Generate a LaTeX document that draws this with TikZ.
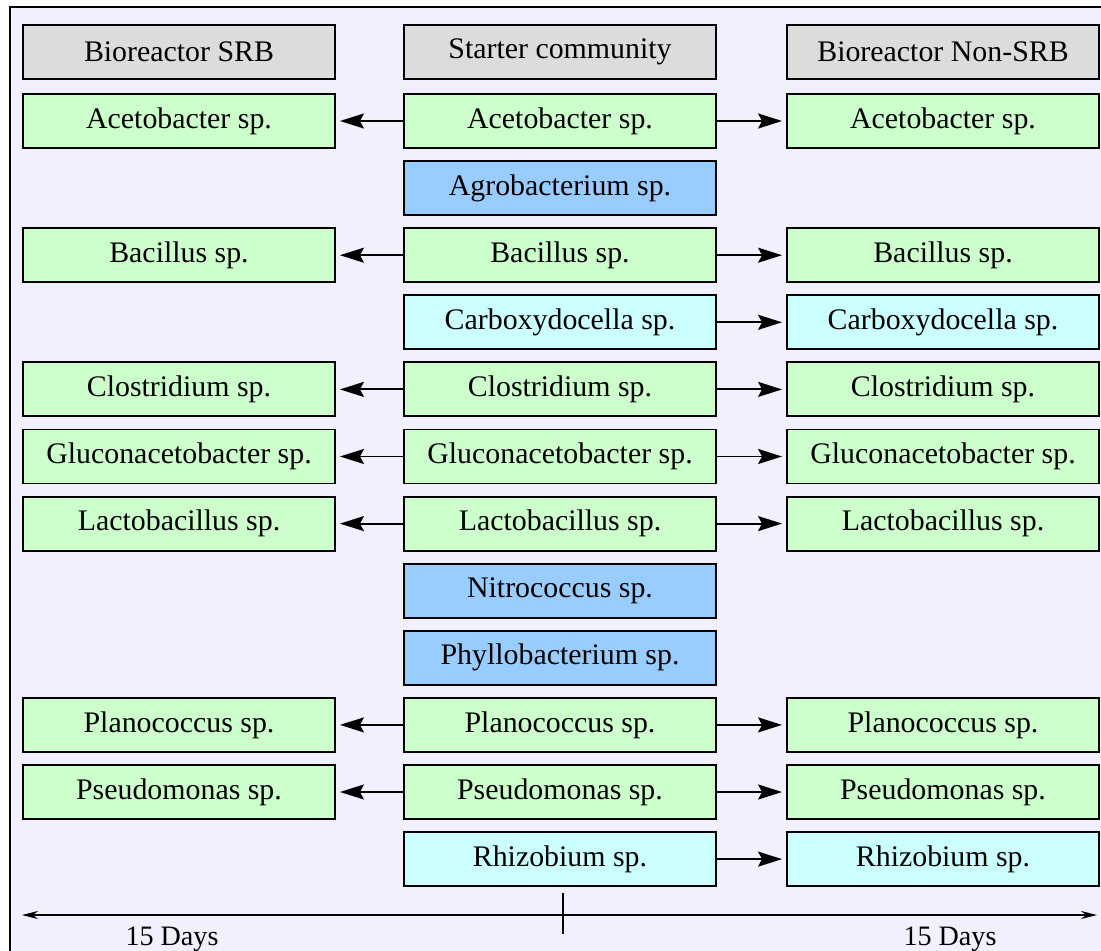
\documentclass[tikz,border=0pt]{standalone}
\usepackage{fontspec}
\setmainfont{Liberation Serif}
\usetikzlibrary{arrows.meta}
\definecolor{bgpane}{HTML}{F0F0FF}
\definecolor{hdrgray}{HTML}{DCDCDC}
\definecolor{taxgreen}{HTML}{CCFFCC}
\definecolor{taxblue}{HTML}{99CCFF}
\definecolor{taxcyan}{HTML}{CCFFFF}
\tikzset{
  taxbox/.style={draw, line width=1.1pt, minimum width=6.24cm, minimum height=1.08cm, inner sep=0pt, font=\fontsize{17}{19}\selectfont},
  transfer/.style={line width=1.1pt, -{Stealth[length=0.48cm,width=0.3cm,inset=0.08cm]}, shorten >=0.08cm},
  timeline/.style={line width=1pt, {Stealth[length=0.32cm,width=0.16cm]}-{Stealth[length=0.32cm,width=0.16cm]}},
}
\begin{document}
\begin{tikzpicture}[x=0.02cm,y=-0.02cm]
  \useasboundingbox (0,0) rectangle (1101,950);
  \fill[white] (0,0) rectangle (1101,950);
  \draw[fill=bgpane, line width=1pt] (10,7) rectangle (1115,965);
  % column headers
  \node[taxbox, fill=hdrgray] (hdrL) at (179,52) {Bioreactor SRB};
  \node[taxbox, fill=hdrgray] (hdrM) at (560,52) {Starter community};
  \node[taxbox, fill=hdrgray] (hdrR) at (943,52) {Bioreactor Non-SRB};
  % genera: name/colour/kept in SRB/kept in Non-SRB
  \foreach \a/\c/\l/\r [count=\n] in {Acetobacter/taxgreen/1/1,Agrobacterium/taxblue/0/0,Bacillus/taxgreen/1/1,Carboxydocella/taxcyan/0/1,Clostridium/taxgreen/1/1,Gluconacetobacter/taxgreen/1/1,Lactobacillus/taxgreen/1/1,Nitrococcus/taxblue/0/0,Phyllobacterium/taxblue/0/0,Planococcus/taxgreen/1/1,Pseudomonas/taxgreen/1/1,Rhizobium/taxcyan/0/1} {
    \pgfmathsetmacro{\yy}{121+(\n-1)*67.1}
    \node[taxbox, fill=\c] (mid\n) at (560,\yy) {\a\ sp.};
    \ifnum\l=1
      \node[taxbox, fill=\c] (left\n) at (179,\yy) {\a\ sp.};
      \draw[transfer] (mid\n) -- (left\n);
    \fi
    \ifnum\r=1
      \node[taxbox, fill=\c] (right\n) at (943,\yy) {\a\ sp.};
      \draw[transfer] (mid\n) -- (right\n);
    \fi
  }
  % time axis
  \coordinate (axL) at (22,915);
  \coordinate (axR) at (1097,915);
  \coordinate (tickT) at (563,893);
  \coordinate (tickB) at (563,934);
  \draw[timeline] (axL) -- (axR);
  \draw[line width=1pt] (tickT) -- (tickB);
  \node[font=\fontsize{16}{18}\selectfont] (daysL) at (172,939) {15 Days};
  \node[font=\fontsize{16}{18}\selectfont] (daysR) at (950,939) {15 Days};
\end{tikzpicture}
\end{document}
